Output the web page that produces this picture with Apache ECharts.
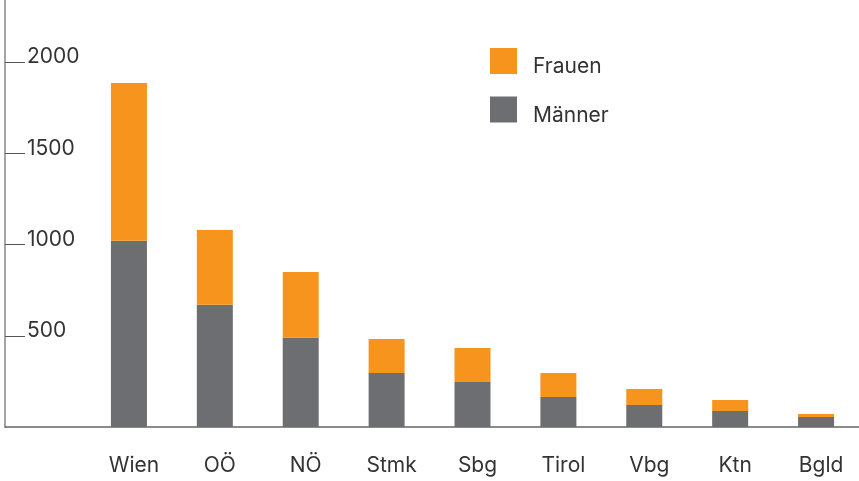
<!DOCTYPE html>
<html><head><meta charset="utf-8">
<script src="https://cdn.jsdelivr.net/npm/echarts@6/dist/echarts.min.js"></script>
<style>html,body{margin:0;padding:0;background:#fff}#c{width:859px;height:481px}</style>
</head><body><div id="c"></div>
<script>
const categories = ['Wien','OÖ','NÖ','Stmk','Sbg','Tirol','Vbg','Ktn','Bgld'];
const maenner = [1020, 670, 490, 296, 247, 164, 121, 88, 55];
const frauen  = [865, 410, 360, 186, 186, 132, 87, 60, 16];
const yMax = 2340;
const yInterval = 500;

const chart = echarts.init(document.getElementById('c'), null, {renderer:'canvas'});
const font = 'Inter, "Liberation Sans", Arial, sans-serif';
chart.setOption({
  animation:false,
  backgroundColor:'#fff',
  textStyle:{fontFamily:font},
  grid:[
    {left:5, right:0, top:0, bottom:54},
    {left:86, right:-2, top:0, bottom:54}
  ],
  legend:{
    orient:'vertical', left:490, top:48, padding:0,
    itemWidth:27, itemHeight:26, itemGap:19,
    data:['Frauen','Männer'],
    icon:'rect',
    formatter:'{a|{name}}',
    textStyle:{fontSize:21, color:'#333', fontFamily:font,
      rich:{a:{fontSize:21, color:'#333', fontFamily:font, padding:[12,0,0,11]}}}
  },
  xAxis:[
    {gridIndex:0, type:'value', min:0, max:1, axisLabel:{show:false}, axisTick:{show:false}, splitLine:{show:false},
     axisLine:{show:true, lineStyle:{color:'#666', width:1.5}}},
    {gridIndex:1, type:'category', data:categories, axisLine:{show:false}, axisTick:{show:false},
     axisLabel:{fontSize:21, color:'#333', margin:28, fontFamily:font, padding:[0,0,0,10]}}
  ],
  yAxis:[
    {gridIndex:0, type:'value', min:0, max:yMax, interval:yInterval,
     axisLine:{show:true, lineStyle:{color:'#888', width:1.5}},
     axisTick:{show:true, inside:true, length:20, lineStyle:{color:'#555', width:1}},
     axisLabel:{inside:true, margin:22, fontSize:21, color:'#333', verticalAlign:'bottom', align:'left',
       lineHeight:10, showMinLabel:false, showMaxLabel:false, fontFamily:font,
       formatter:function(v){return (v===0||v>2000)?'':String(v);}},
     splitLine:{show:false}},
    {gridIndex:1, type:'value', min:0, max:yMax, interval:yInterval, show:false, splitLine:{show:false}}
  ],
  series:[
    {name:'Männer', type:'bar', stack:'a', xAxisIndex:1, yAxisIndex:1, data:maenner, barWidth:36,
     itemStyle:{color:'#6D6E71'}},
    {name:'Frauen', type:'bar', stack:'a', xAxisIndex:1, yAxisIndex:1, data:frauen, barWidth:36,
     itemStyle:{color:'#F7941D'}}
  ]
});
</script></body></html>
